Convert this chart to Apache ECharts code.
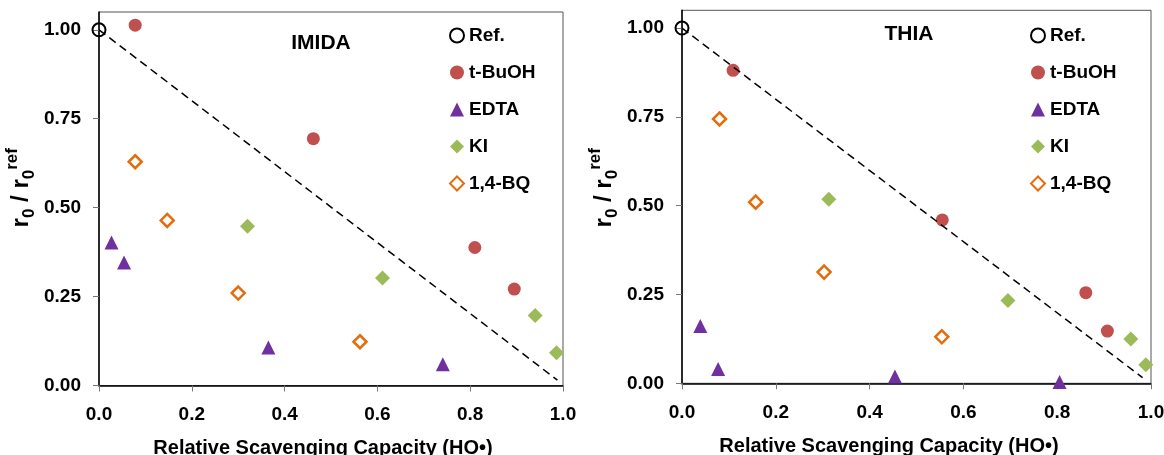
<!DOCTYPE html>
<html><head><meta charset="utf-8">
<script src="https://cdn.jsdelivr.net/npm/echarts@6/dist/echarts.min.js"></script>
<style>html,body{margin:0;padding:0;background:#fff}#c{width:1164px;height:455px}</style>
</head><body><div id="c"></div>
<script>
// ---- data ----
const seriesNames = ['Ref.', 't-BuOH', 'EDTA', 'KI', '1,4-BQ'];
const panelTitles = ['IMIDA', 'THIA'];
const xTickValues = [0, 0.2, 0.4, 0.6, 0.8, 1.0];
const yTickValues = [0, 0.25, 0.5, 0.75, 1.0];
const xAxisTitle = 'Relative Scavenging Capacity (HO•)';

// IMIDA panel
const imidaRef = [[0, 1]];
const imidaTBuOH = [[0.078, 1.013], [0.462, 0.694], [0.810, 0.388], [0.895, 0.271]];
const imidaEDTA = [[0.027, 0.402], [0.054, 0.346], [0.365, 0.107], [0.741, 0.060]];
const imidaKI = [[0.320, 0.448], [0.611, 0.302], [0.940, 0.197], [0.986, 0.092]];
const imidaBQ = [[0.078, 0.629], [0.147, 0.464], [0.300, 0.260], [0.5625, 0.123]];
const imidaDiagonal = [[0, 1], [0.988, 0.015]];

// THIA panel
const thiaRef = [[0, 1]];
const thiaTBuOH = [[0.109, 0.881], [0.555, 0.460], [0.861, 0.255], [0.907, 0.147]];
const thiaEDTA = [[0.039, 0.161], [0.077, 0.040], [0.454, 0.019], [0.805, 0.004]];
const thiaKI = [[0.313, 0.518], [0.695, 0.233], [0.957, 0.125], [0.989, 0.052]];
const thiaBQ = [[0.080, 0.744], [0.157, 0.510], [0.303, 0.313], [0.554, 0.131]];
const thiaDiagonal = [[0, 1], [0.982, 0.016]];

// ---- styles ----
const FONT = '"Liberation Sans", Arial, sans-serif';
const styles = {
  'Ref.':   { symbol: 'circle',   size: 13, itemStyle: { color: 'rgba(0,0,0,0)', borderColor: '#000', borderWidth: 2, opacity: 1 } },
  't-BuOH': { symbol: 'circle',   size: 13, itemStyle: { color: '#C0504D', opacity: 1 } },
  'EDTA':   { symbol: 'triangle', size: 14, itemStyle: { color: '#7030A0', opacity: 1 } },
  'KI':     { symbol: 'diamond',  size: 15, itemStyle: { color: '#9BBB59', opacity: 1 } },
  '1,4-BQ': { symbol: 'diamond',  size: 13, itemStyle: { color: '#fff', borderColor: '#E46C0A', borderWidth: 2.5, opacity: 1 } }
};

function panelSeries(idx, sets, diag) {
  const out = [];
  seriesNames.forEach((n, i) => {
    const s = styles[n];
    out.push({
      type: 'scatter', name: n, xAxisIndex: idx, yAxisIndex: idx,
      data: sets[i], symbol: s.symbol, symbolSize: s.size, itemStyle: s.itemStyle,
      z: 2, emphasis: { disabled: true }
    });
  });
  out.push({
    type: 'line', name: 'diag', xAxisIndex: idx, yAxisIndex: idx, data: diag,
    symbol: 'none', lineStyle: { color: '#000', width: 1.5, type: [8, 5] }, z: 3, silent: true
  });
  return out;
}

function xAxis(idx, padRight) {
  return {
    type: 'value', gridIndex: idx, min: 0, max: 1, interval: 0.2,
    axisLine: { show: true, onZero: false, lineStyle: { color: '#000', width: 1.5 } },
    axisTick: { show: true, length: 6, lineStyle: { color: '#777', width: 1 } },
    splitLine: { show: false },
    axisLabel: { show: true, margin: 20, color: '#000', fontFamily: FONT, fontWeight: 'bold', fontSize: 19,
      formatter: v => v.toFixed(1) },
    name: xAxisTitle, nameLocation: 'middle', nameGap: 53,
    nameTextStyle: { color: '#000', fontFamily: FONT, fontWeight: 'bold', fontSize: 20, padding: [0, padRight, 0, 0] }
  };
}

function yAxis(idx, padLeft) {
  return {
    type: 'value', gridIndex: idx, min: 0, max: 1.05, interval: 0.25,
    axisLine: { show: true, onZero: false, lineStyle: { color: '#000', width: 1.5 } },
    axisTick: { show: true, length: 6, lineStyle: { color: '#777', width: 1 }, customValues: yTickValues },
    splitLine: { show: false },
    axisLabel: { show: true, margin: 18, color: '#000', fontFamily: FONT, fontWeight: 'bold', fontSize: 19,
      customValues: yTickValues,
      formatter: v => (v > 1.001 ? '' : v.toFixed(2)) },
    name: '{m|r}{s|0}{m| / r}{s|0}{p|ref}', nameLocation: 'middle', nameRotate: 90, nameGap: 61,
    nameTextStyle: {
      padding: [0, 0, 0, padLeft],
      rich: {
        m: { fontFamily: FONT, fontWeight: 'bold', fontSize: 24, color: '#000', lineHeight: 34 },
        s: { fontFamily: FONT, fontWeight: 'bold', fontSize: 17, color: '#000', lineHeight: 14, verticalAlign: 'bottom' },
        p: { fontFamily: FONT, fontWeight: 'bold', fontSize: 17, color: '#000', lineHeight: 14, verticalAlign: 'top' }
      }
    }
  };
}

function legend(left, top) {
  return {
    orient: 'vertical', left: left, top: top, padding: 0, itemWidth: 14, itemHeight: 14, itemGap: 18,
    selectedMode: false, data: seriesNames,
    textStyle: { color: '#000', fontFamily: FONT, fontWeight: 'bold', fontSize: 19 }
  };
}

const option = {
  animation: false,
  backgroundColor: '#fff',
  title: [
    { text: panelTitles[0], left: 316, top: 28, textAlign: 'center',
      textStyle: { color: '#000', fontFamily: FONT, fontWeight: 'bold', fontSize: 21 } },
    { text: panelTitles[1], left: 904, top: 19, textAlign: 'center',
      textStyle: { color: '#000', fontFamily: FONT, fontWeight: 'bold', fontSize: 21 } }
  ],
  legend: [legend(449, 26), legend(1030, 26)],
  grid: [
    { left: 99, top: 12, width: 464, height: 373.5, show: true, borderColor: '#555', borderWidth: 1, backgroundColor: 'transparent', containLabel: false, outerBoundsMode: 'none' },
    { left: 682, top: 10.3, width: 469, height: 373, show: true, borderColor: '#555', borderWidth: 1, backgroundColor: 'transparent', containLabel: false, outerBoundsMode: 'none' }
  ],
  xAxis: [xAxis(0, 16), xAxis(1, 55)],
  yAxis: [yAxis(0, 22), yAxis(1, 18)],
  series: [
    ...panelSeries(0, [imidaRef, imidaTBuOH, imidaEDTA, imidaKI, imidaBQ], imidaDiagonal),
    ...panelSeries(1, [thiaRef, thiaTBuOH, thiaEDTA, thiaKI, thiaBQ], thiaDiagonal)
  ]
};

const chart = echarts.init(document.getElementById('c'), null, { renderer: 'canvas' });
chart.setOption(option);
</script>
</body></html>
